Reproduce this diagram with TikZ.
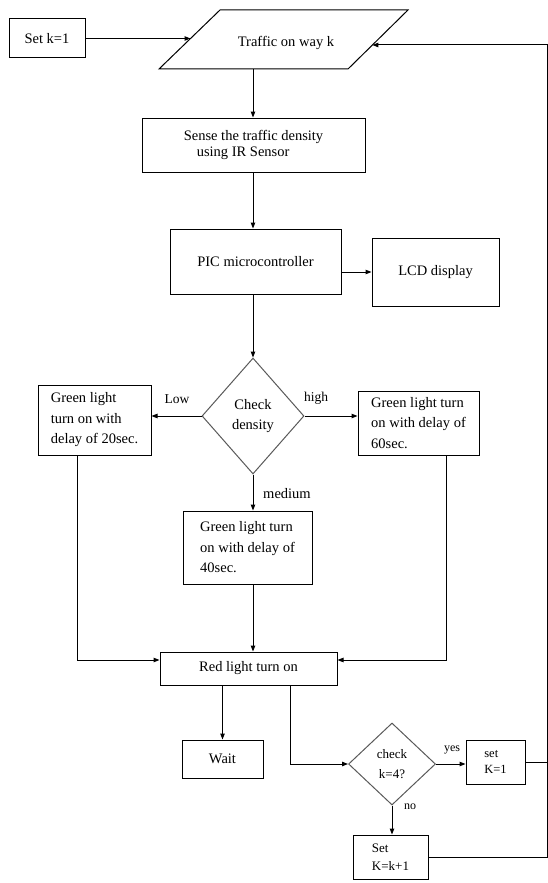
\documentclass[tikz,border=0pt]{standalone}
\usepackage{fontspec}
\setmainfont{Liberation Serif}
\usetikzlibrary{arrows.meta,shapes.geometric,calc}
\begin{document}
\begin{tikzpicture}[x=1pt,y=-1pt,
  line width=1pt,
  box/.style={draw, inner sep=0pt, align=left, font=\fontsize{14.5}{20.5}\selectfont},
  sbox/.style={draw, inner sep=0pt, align=left, font=\fontsize{12.5}{16}\selectfont},
  dbox/.style={draw=black!65, diamond, inner sep=0pt, align=center},
  arr/.style={-{Triangle[length=6pt,width=4.5pt]}},
  lbl/.style={inner sep=0pt, font=\fontsize{13.5}{15}\selectfont},
  slbl/.style={inner sep=0pt, font=\fontsize{12}{14}\selectfont}
]
\useasboundingbox (0,0) rectangle (548,883);

% input parallelogram
\coordinate (paraTL) at (220,10);
\coordinate (paraTR) at (408,10);
\coordinate (paraBR) at (348,69);
\coordinate (paraBL) at (159,69);
\draw (paraTL) -- (paraTR) -- (paraBR) -- (paraBL) -- cycle;
\node[inner sep=0pt, font=\fontsize{14.5}{17}\selectfont] (traffic) at (286,43) {Traffic on way k};
\coordinate (paraL) at (190.5,38.5);
\coordinate (paraR) at (372.4,45);
\coordinate (paraB) at (253,69);

% nodes
\node[box, minimum width=76pt, minimum height=39pt] (setk) at (47,38.5) {Set k=1};
\node[box, minimum width=223pt, minimum height=54pt, font=\fontsize{14.5}{16.5}\selectfont] (sense) at (253.5,145) {Sense the traffic density\\\hspace{13pt}using IR Sensor};
\node[box, minimum width=171pt, minimum height=65pt] (pic) at (255.5,261.5) {\raisebox{-8pt}{PIC microcontroller}};
\node[box, minimum width=127pt, minimum height=68pt] (lcd) at (435.5,272) {\raisebox{-6pt}{LCD display}};
\node[dbox, minimum width=102pt, minimum height=116pt, font=\fontsize{14.5}{20}\selectfont] (dia1) at (253,416) {Check\\density};
\node[box, minimum width=113pt, minimum height=70pt] (g20) at (94.5,420) {Green light\\turn on with\\delay of 20sec.};
\node[box, minimum width=121pt, minimum height=64pt] (g60) at (418.5,423) {Green light turn\\on with delay of\\60sec.};
\node[box, minimum width=129pt, minimum height=73pt] (g40) at (247.5,547.5) {Green light turn\\on with delay of\\40sec.};
\node[box, minimum width=177pt, minimum height=33pt] (red) at (248.5,668.5) {\raisebox{5pt}{Red light turn on}};
\node[box, minimum width=81pt, minimum height=38pt] (wait) at (222.5,759) {Wait};
\node[dbox, minimum width=87pt, minimum height=82pt, font=\fontsize{13}{20}\selectfont] (dia2) at (392,764) {check\\k=4?};
\node[sbox, minimum width=59pt, minimum height=44pt] (setK1) at (495.5,762) {set\\K=1};
\node[sbox, minimum width=75pt, minimum height=44pt, font=\fontsize{13}{18}\selectfont] (setKk) at (390.5,857) {Set\\K=k+1};

% connectors
\draw[arr] (setk.east |- paraL) -- (paraL);
\draw[arr] (paraB) -- (paraB |- sense.north);
\draw[arr] (sense.south -| dia1.north) -- (pic.north -| dia1.north);
\draw[arr] (pic.south -| dia1.north) -- (dia1.north);
\draw[arr] (lcd.west -| pic.east) -- (lcd.west);
\draw[arr] (dia1.west) -- (dia1.west -| g20.east);
\draw[arr] (dia1.east) -- (dia1.east -| g60.west);
\draw[arr] (dia1.south) -- (dia1.south |- g40.north);
\draw[arr] (g40.south -| dia1.south) -- (red.north -| dia1.south);
\draw[arr] ([xshift=-17pt]g20.south) |- ([yshift=8.5pt]red.west);
\draw[arr] ([xshift=27.5pt]g60.south) |- ([yshift=8.5pt]red.east);
\draw[arr] (red.south -| wait.north) -- (wait.north);
\draw[arr] ([xshift=41.5pt]red.south) |- (dia2.west);
\draw[arr] (dia2.east) -- (dia2.east -| setK1.west);
\draw[arr] (dia2.south) -- (dia2.south |- setKk.north);
\coordinate (retB) at (547,857);
\coordinate (retT) at (547,45);
\draw (setK1.east) -- (setK1.east -| retB);
\draw[arr] (setKk.east) -- (setKk.east -| retB) -- (retT) -- (paraR);

% labels
\node[lbl] (lLow) at (177,399) {Low};
\node[lbl] (lHigh) at (316,398) {high};
\node[lbl, font=\fontsize{14.5}{15}\selectfont] (lMed) at (287,494) {medium};
\node[slbl] (lYes) at (452,750) {yes};
\node[slbl] (lNo) at (410,807) {no};
\end{tikzpicture}
\end{document}
